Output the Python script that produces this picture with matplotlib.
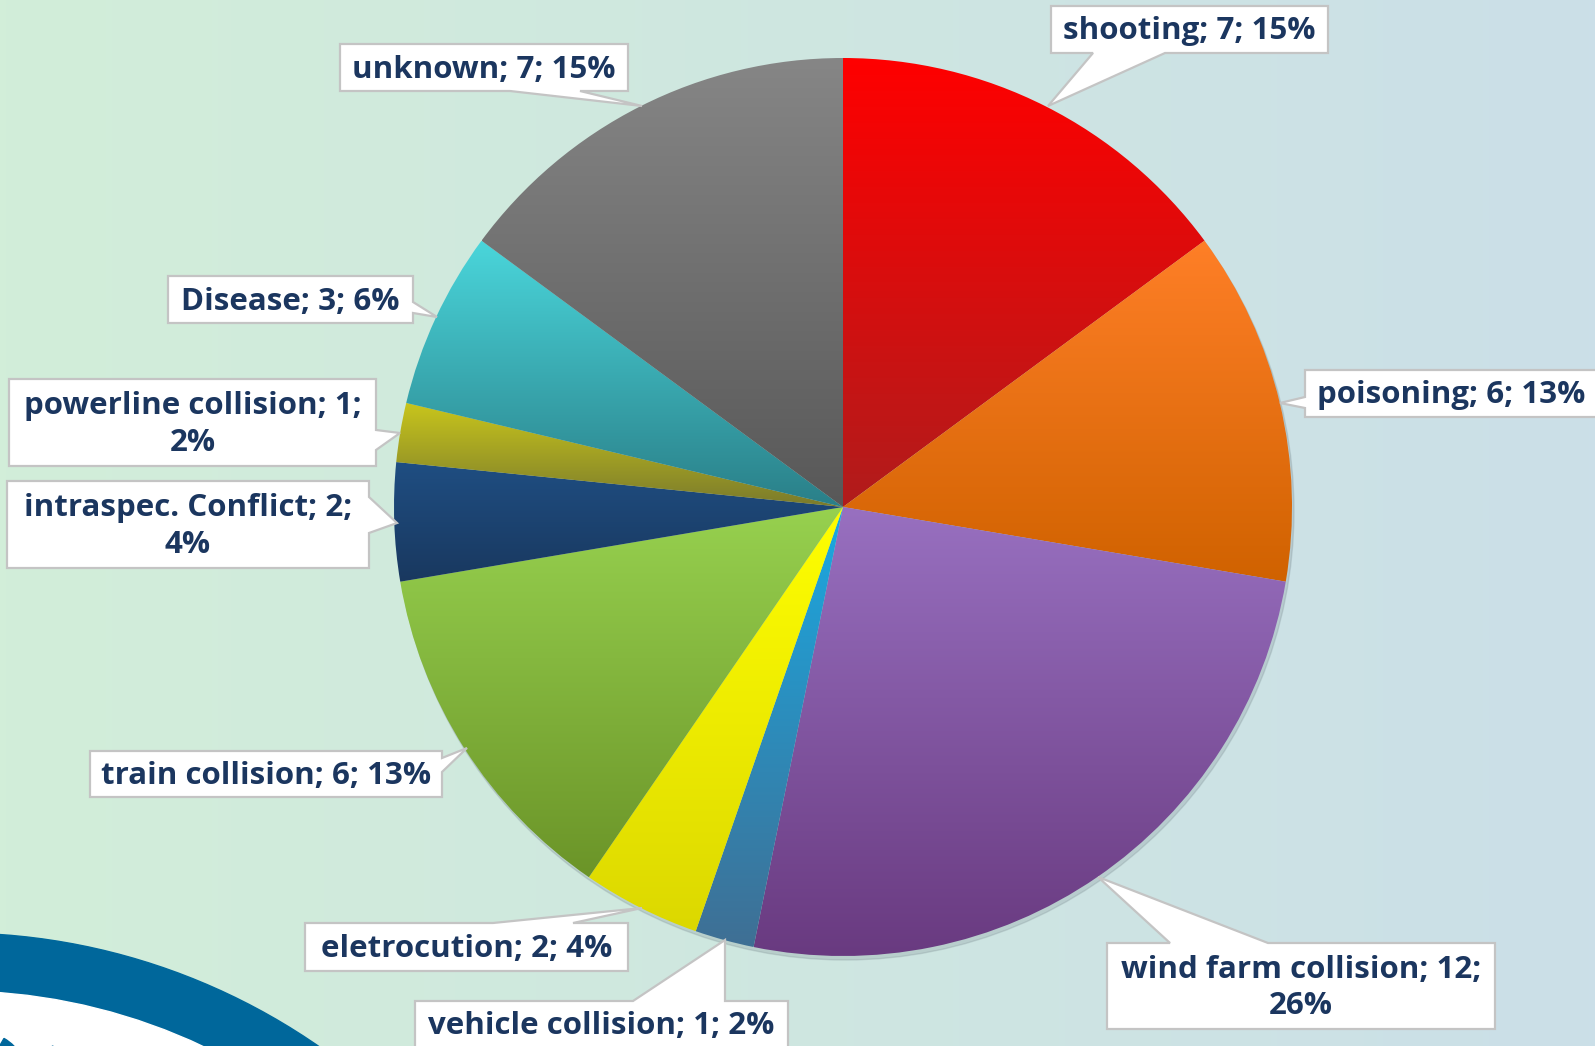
import numpy as np
import matplotlib
matplotlib.use('Agg')
import matplotlib.pyplot as plt
from matplotlib.patches import Polygon, Wedge, Circle
from matplotlib.colors import to_rgb

# data
causes = ['shooting', 'poisoning', 'wind farm collision', 'vehicle collision',
          'eletrocution', 'train collision', 'intraspec. Conflict',
          'powerline collision', 'Disease', 'unknown']
counts = [7, 6, 12, 1, 2, 6, 2, 1, 3, 7]
top_colors = ['#ff0000', '#ff7f27', '#9870c0', '#1aa9e2', '#ffff00',
              '#97d14f', '#1f4e82', '#c9c61c', '#4ad6db', '#868686']
bot_colors = ['#b01c1c', '#d06200', '#693a80', '#3f6f94', '#dcd800',
              '#6b9428', '#19385f', '#7a7a2c', '#2a7f88', '#585858']
# where the label text breaks onto a second line (None = one line)
breaks = [None, None, 2, None, None, None, 2, 2, None, None]

W, H = 1595, 1046
fig = plt.figure(figsize=(W / 100, H / 100), dpi=100)
ax = fig.add_axes([0, 0, 1, 1])

# background gradient
bg = np.linspace(0, 1, 256)[None, :, None]
c1 = np.array(to_rgb('#d2eed9'))
c2 = np.array(to_rgb('#cbdfe8'))
ax.imshow(c1 + (c2 - c1) * bg, extent=(0, W, H, 0), aspect='auto', zorder=-10)

# logo arc bottom-left
ax.add_patch(Circle((-44, 1570), 637, color='#00679b', zorder=-5))
ax.add_patch(Circle((-44, 1570), 579, color='white', zorder=-4))
ax.add_patch(Wedge((-20, 1080), 48, 300, 360, width=12, color='#00679b', zorder=-3))
ax.add_patch(Wedge((30, 1085), 45, 300, 355, width=14, color='#00679b', zorder=-3))

# pie
cx, cy, R = 843, 507, 449
ax.add_patch(Circle((cx + 2, cy + 4), R, color='#7a8a90', alpha=0.25, zorder=0))
wedges, _ = ax.pie(counts, center=(cx, cy), radius=R, startangle=-90,
                   counterclock=True, frame=True,
                   wedgeprops=dict(facecolor='none', edgecolor='none'))
for w, ct, cb in zip(wedges, top_colors, bot_colors):
    ext = w.get_path().get_extents()
    t = np.linspace(0, 1, 256)[:, None, None]
    a = np.array(to_rgb(ct))
    b = np.array(to_rgb(cb))
    grad = a + (b - a) * t
    grad = np.repeat(grad, 2, axis=1)
    im = ax.imshow(grad, extent=(ext.x0, ext.x1, ext.y1, ext.y0),
                   aspect='auto', interpolation='bilinear', zorder=1)
    im.set_clip_path(w)

# callout boxes: (x0, y0, x1, y1), tail side, base a, base b, tip
boxes = [
    ((1051, 6, 1328, 53), 'bottom', 1093, 1165, (1048, 106)),
    ((1305, 370, 1600, 417), 'left', 397, 408, (1280, 403)),
    ((1107, 943, 1495, 1029), 'top', 1170, 1268, (1098, 877)),
    ((415, 1001, 788, 1060), 'top', 633, 725, (725, 940)),
    ((305, 923, 628, 971), 'top', 493, 573, (642, 908)),
    ((90, 751, 442, 797), 'right', 758, 772, (467, 748)),
    ((7, 481, 369, 568), 'right', 497, 533, (397, 523)),
    ((9, 379, 376, 466), 'right', 430, 450, (400, 433)),
    ((168, 276, 413, 323), 'right', 302, 313, (437, 317)),
    ((340, 44, 628, 91), 'bottom', 510, 580, (642, 106)),
]

total = sum(counts)
for name, n, brk, (box, side, p, q, tip) in zip(causes, counts, breaks, boxes):
    x0, y0, x1, y1 = box
    pts = [(x0, y0)]
    if side == 'top':
        pts += [(p, y0), tip, (q, y0)]
    pts.append((x1, y0))
    if side == 'right':
        pts += [(x1, p), tip, (x1, q)]
    pts.append((x1, y1))
    if side == 'bottom':
        pts += [(q, y1), tip, (p, y1)]
    pts.append((x0, y1))
    if side == 'left':
        pts += [(x0, q), tip, (x0, p)]
    ax.add_patch(Polygon(pts, closed=True, facecolor='white',
                         edgecolor='#c4c4c4', linewidth=1.6, zorder=5))
    parts = [name, str(n), '%d%%' % round(100 * n / total)]
    if brk:
        label = '; '.join(parts[:brk]) + ';\n' + '; '.join(parts[brk:])
    else:
        label = '; '.join(parts)
    xc = (x0 + min(x1, W)) / 2 if side != 'left' else x0 + 146
    ax.text(xc, (y0 + min(y1, H)) / 2 + 2, label, ha='center', va='center',
            fontsize=22.5, family='Open Sans', fontweight='bold',
            color='#1b365f', linespacing=1.3, zorder=6)

ax.set_xlim(0, W)
ax.set_ylim(H, 0)
ax.set_aspect('auto')
ax.axis('off')
fig.savefig('out.png', dpi=100)
